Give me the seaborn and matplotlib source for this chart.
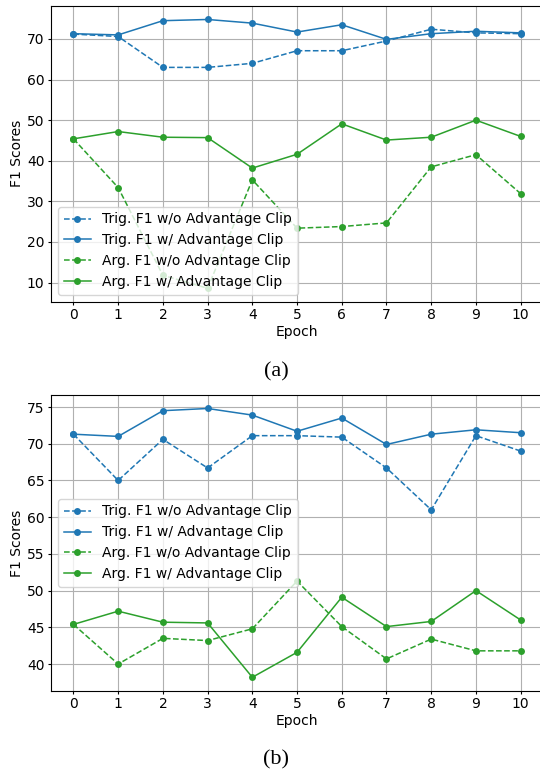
import matplotlib
matplotlib.use("Agg")
import matplotlib.pyplot as plt
import seaborn as sns
import pandas as pd

epochs = list(range(11))
labels = ["Trig. F1 w/o Advantage Clip", "Trig. F1 w/ Advantage Clip",
          "Arg. F1 w/o Advantage Clip", "Arg. F1 w/ Advantage Clip"]

# (a)
a_trig_wo = [71.2, 70.6, 63.0, 63.0, 64.0, 67.1, 67.1, 69.5, 72.4, 71.5, 71.3]
a_trig_w = [71.3, 71.0, 74.5, 74.8, 73.9, 71.7, 73.5, 69.9, 71.3, 71.9, 71.5]
a_arg_wo = [45.4, 33.4, 11.8, 8.6, 35.3, 23.4, 23.8, 24.7, 38.5, 41.5, 31.9]
a_arg_w = [45.4, 47.2, 45.8, 45.7, 38.2, 41.6, 49.1, 45.1, 45.8, 50.0, 46.0]

# (b)
b_trig_wo = [71.3, 65.0, 70.6, 66.7, 71.1, 71.1, 70.9, 66.7, 61.0, 71.1, 69.0]
b_trig_w = [71.3, 71.0, 74.5, 74.8, 73.9, 71.7, 73.5, 69.9, 71.3, 71.9, 71.5]
b_arg_wo = [45.4, 40.0, 43.5, 43.2, 44.8, 51.3, 45.1, 40.7, 43.4, 41.8, 41.8]
b_arg_w = [45.4, 47.2, 45.7, 45.6, 38.2, 41.6, 49.1, 45.1, 45.8, 50.0, 46.0]

BLUE = "#1f77b4"
GREEN = "#2ca02c"
styles = [(BLUE, "--"), (BLUE, "-"), (GREEN, "--"), (GREEN, "-")]

plt.rcParams["font.family"] = ["DejaVu Sans"]
plt.rcParams["font.size"] = 10

fig = plt.figure(figsize=(5.4, 7.74), dpi=100)


def panel(rect, series, legend_loc, caption, cap_y):
    ax = fig.add_axes(rect)
    for vals, lab, (c, ls) in zip(series, labels, styles):
        df = pd.DataFrame({"Epoch": epochs, "F1": vals})
        sns.lineplot(data=df, x="Epoch", y="F1", ax=ax, color=c, linestyle=ls,
                     marker="o", markersize=5, markeredgewidth=0,
                     linewidth=1.1, label=lab)
    ax.set_xticks(epochs)
    ax.set_xlim(-0.5, 10.5)
    ax.grid(True, color="#b0b0b0", linewidth=0.8)
    ax.set_axisbelow(True)
    ax.set_xlabel("Epoch", fontsize=10, labelpad=2)
    ax.set_ylabel("F1 Scores", fontsize=10, labelpad=2)
    ax.tick_params(labelsize=10, length=2.2, width=0.8, pad=2.5)
    ax.legend(loc=legend_loc, fontsize=10, framealpha=0.8)
    fig.text(0.512, cap_y, caption, ha="center", va="center",
             fontsize=16, family=["Liberation Serif", "DejaVu Serif"])
    return ax


panel([0.0946, 0.6102, 0.911, 0.382], [a_trig_wo, a_trig_w, a_arg_wo, a_arg_w],
      "lower left", "(a)", 0.5198)
panel([0.0946, 0.1076, 0.911, 0.382], [b_trig_wo, b_trig_w, b_arg_wo, b_arg_w],
      "center left", "(b)", 0.0181)

fig.savefig("out.png", dpi=100)
